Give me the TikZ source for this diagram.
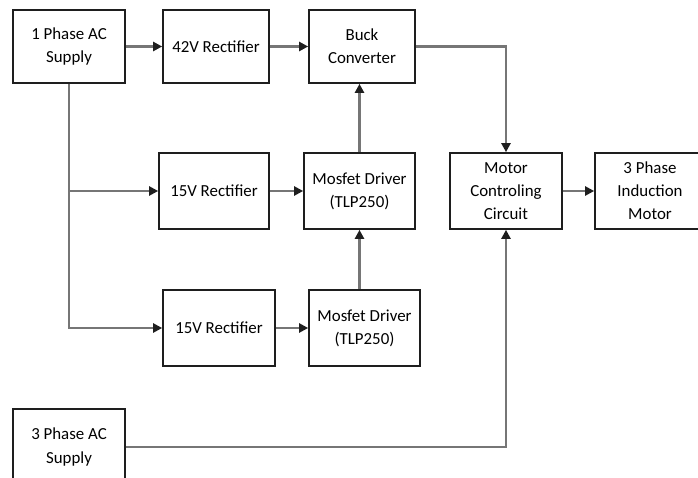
\documentclass[tikz,border=0pt]{standalone}
\usepackage{fontspec}
\setmainfont{Carlito}
\usetikzlibrary{shapes,arrows.meta}

\definecolor{wire}{RGB}{118,118,118}
\definecolor{edge}{RGB}{30,30,30}

\tikzset{
    block/.style={draw=edge, line width=0.95pt, fill=white, rectangle,
        minimum height=1.46cm, align=center, inner sep=1pt,
        font=\fontsize{9.6}{13.1}\selectfont},
    wire/.style={draw=wire, line width=1.3pt},
    arr/.style={wire, -{Triangle[length=5.2pt,width=5.2pt,color=edge]}}
}

\begin{document}
\begin{tikzpicture}
    \useasboundingbox (0,0) rectangle (13.96,-9.56);
    % top row
    \node[block, minimum width=2.24cm] (ph1) at (1.38,-0.93) {1 Phase AC\\Supply};
    \node[block, minimum width=2.12cm] (rect42) at (4.32,-0.93) {42V Rectifier};
    \node[block, minimum width=2.12cm] (buck) at (7.24,-0.93) {Buck\\Converter};
    % middle row
    \node[block, minimum width=2.20cm, minimum height=1.52cm] (rect15a) at (4.28,-3.82) {15V Rectifier};
    \node[block, minimum width=2.22cm, minimum height=1.52cm] (mos1) at (7.19,-3.82) {Mosfet Driver\\(TLP250)};
    \node[block, minimum width=2.24cm, minimum height=1.52cm] (mcc) at (10.12,-3.82) {Motor\\Controling\\Circuit};
    \node[block, minimum width=2.20cm, minimum height=1.52cm] (motor) at (13.0,-3.82) {3 Phase\\Induction\\Motor};
    % lower row
    \node[block, minimum width=2.24cm, minimum height=1.52cm] (rect15b) at (4.38,-6.56) {15V Rectifier};
    \node[block, minimum width=2.22cm, minimum height=1.52cm] (mos2) at (7.29,-6.56) {Mosfet Driver\\(TLP250)};
    \node[block, minimum width=2.24cm, minimum height=1.52cm] (ph3) at (1.38,-8.94) {3 Phase AC\\Supply};

    % power path
    \draw[arr] (ph1) -- (rect42);
    \draw[arr] (rect42) -- (buck);
    \draw[arr] (buck.east) -| (mcc.north);
    \draw[arr] (mcc) -- (motor);
    % supply trunk for the gate drivers
    \draw[arr] (ph1.south) |- (rect15b.west);
    \draw[arr] (ph1.south |- rect15a.west) -- (rect15a.west);
    \draw[arr] (rect15a) -- (mos1);
    \draw[arr] (rect15b) -- (mos2);
    \draw[arr] (mos1.north) -- (mos1.north |- buck.south);
    \draw[arr] (mos1.south |- mos2.north) -- (mos1.south);
    % three phase feed
    \draw[arr] (ph3.east) -| (mcc.south);
\end{tikzpicture}
\end{document}
